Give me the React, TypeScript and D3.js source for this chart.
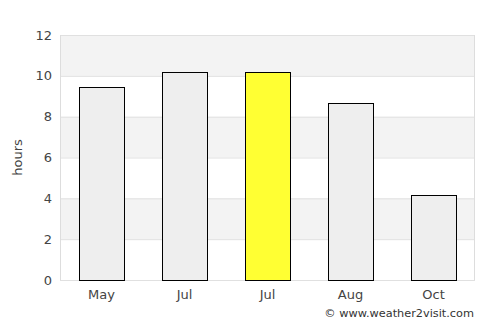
import React from 'react'
import * as d3 from 'd3'

const months = ['May', 'Jul', 'Jul', 'Aug', 'Oct']
const hours = [9.45, 10.2, 10.2, 8.65, 4.15]
const highlight = [false, false, true, false, false]
const yTicks = [0, 2, 4, 6, 8, 10, 12]

const width = 500
const height = 325
const margin = { top: 35, right: 25, bottom: 45, left: 60 }

export default function App() {
  const innerW = width - margin.left - margin.right
  const innerH = height - margin.top - margin.bottom

  const x = d3.scaleBand<number>()
    .domain(months.map((_, i) => i))
    .range([0, innerW])
    .paddingInner(0.458)
    .paddingOuter(0.229)

  const y = d3.scaleLinear().domain([0, 12]).range([innerH, 0])

  const font = 'DejaVu Sans, sans-serif'

  return (
    <svg width={width} height={height} style={{ position: 'absolute', left: 0, top: 0 }}>
      <g transform={`translate(${margin.left},${margin.top})`}>
        {yTicks.slice(0, -1).map((t, i) => (
          <rect key={'b' + t} x={0} width={innerW}
            y={y(yTicks[i + 1])} height={y(t) - y(yTicks[i + 1])}
            fill={i % 2 === 1 ? '#f3f3f3' : '#ffffff'} />
        ))}
        {yTicks.map(t => (
          <line key={'g' + t} x1={0} x2={innerW} y1={y(t) + 0.5} y2={y(t) + 0.5}
            stroke="#e0e0e0" />
        ))}
        <line x1={0.5} x2={0.5} y1={0} y2={innerH} stroke="#dddddd" />
        <line x1={innerW - 0.5} x2={innerW - 0.5} y1={0} y2={innerH} stroke="#dddddd" />
        {hours.map((v, i) => (
          <rect key={'r' + i} x={Math.round(x(i)!) + 0.5} y={Math.round(y(v)) + 0.5}
            width={Math.round(x.bandwidth())} height={Math.round(innerH - y(v))}
            fill={highlight[i] ? '#ffff33' : '#eeeeee'} stroke="#000" strokeWidth={1} />
        ))}
        {yTicks.map(t => (
          <text key={'t' + t} x={-8} y={y(t)} dy="0.35em" textAnchor="end"
            fontFamily={font} fontSize={13} fill="#444">{t}</text>
        ))}
        {months.map((m, i) => (
          <text key={'m' + i} x={x(i)! + x.bandwidth() / 2} y={innerH + 19}
            textAnchor="middle" fontFamily={font} fontSize={13} fill="#444">{m}</text>
        ))}
        <text transform={`translate(${-38},${innerH / 2}) rotate(-90)`} textAnchor="middle"
          fontFamily={font} fontSize={13} fill="#444">hours</text>
      </g>
      <text x={474} y={317} textAnchor="end" fontFamily={font} fontSize={11.3} fill="#333">
        © www.weather2visit.com
      </text>
    </svg>
  )
}
